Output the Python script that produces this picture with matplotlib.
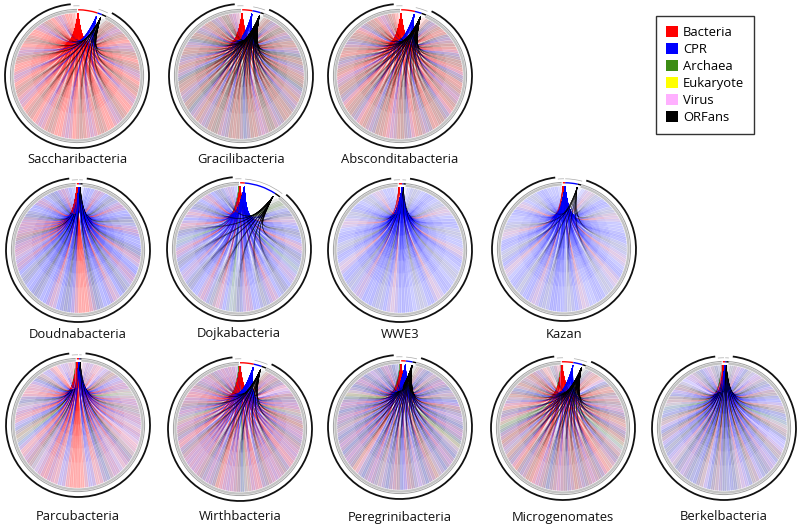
import matplotlib
matplotlib.use('Agg')
import matplotlib.pyplot as plt
from matplotlib.patches import Arc, PathPatch, Patch
from matplotlib.path import Path
import numpy as np

plt.rcParams['font.family'] = ['Open Sans', 'DejaVu Sans']

#[DATA] phylum names, legend and what each link points at
names = ['Saccharibacteria', 'Gracilibacteria', 'Absconditabacteria',
         'Doudnabacteria', 'Dojkabacteria', 'WWE3', 'Kazan',
         'Parcubacteria', 'Wirthbacteria', 'Peregrinibacteria', 'Microgenomates', 'Berkelbacteria']

legend_names = ['Bacteria', 'CPR', 'Archaea', 'Eukaryote', 'Virus', 'ORFans']

# one letter per bundle of links, clockwise round the circle. capital = strong, small = weak
# B bacteria, C CPR, A archaea, E eukaryote, V virus, O orfan
links = [
    'OBOBCBOBBBCBOBBBOBCBBBOBBCBBBBOBCBBBBOBBCBBOBBBCBBBBOBBCBBBOBBBCBBOBBBCBBBBOBCBBBOBBBBCBOBBBCBBBB',
    'OBOCBOOBCOBOBCOOBOCBOBOOCBOBCOBOBOCBOOBCBOBOCOBOBOCBOOBOCBOBCOOBOCBOBOOCBOBCOBOBCOOBOCBOBOCBOOBCB',
    'BOCBOBBOCBOBBCOBOBBCOBBOBCBOBBCOBOBBOCBOBBCOBOBCBBOBOCBOBBCOBOBBCOBOBCBBOBCOBBOBCOBOBBCOBOBBCBOBB',
    'CCcCBCcCOcCBCcCCOcCBCCcCCOCBcCCCBCcOCCcBCCcCOCBBBBBCCOCCcBCCcCOCCcCOcCCBCcBCBCOBCBCBCOCcCCBCcCOCCBCcC',
    'OAocCOcbCcCOcCcBcCOcCAcCbCcCOcCcBCcOcCcCBcCOcAcCcBcOcCBcCcCOcCbCcCOcCBcCAcCOcBcCcBcCOcCcBCcCOcCbCc',
    'ccocccCcccocbcccCccoccccbcCcccocccCccbcCccocccCcCcbcCcoCcCcCbCcoCcCcbccCcoccCcccbccocCcccoccbccccc',
    'ccbcoccCccocbcccccCccoccbcccCcbccoccCccccbcCcocCcCCcoCcbCcCcocCcccbcCcoccCccbcoccccCcbcccoccCccccc',
    'bCbcBvCbObCcBCbAcBCbOcBCbcBCvBcbOCBcbCBcOCbBcCbBBBBBcCbBCBBCbcOBCbBcCAbOcCbBCbcOCbBcBcCObcCbBvCbcB',
    'OBCBOCBVCBOCBCBACBOBCBCOBCBCBBCOBCBCBOCBBCBACOBCBCBBOCBCOBCBCBCBOCBBCOBCBACBCOBCBBCBOCBCBOCBCBCBC',
    'ObCOCbOCBCOCbOCCBOCbCOCBCOAbCOCBCOCbOBCOCbCOBCCOBCOCbOCBCOCbBOCBCOCBCOCbOCBCOCBCOAbCOCBCOCbCOCBCOC',
    'OcBoBvCObBOcBOcBCOBoBCOBoAcBOCBoBBCOBCBOCBOBCOBCBOCOBCBBOBCOBBCOBoCBOBCOAoBCObBCoBOCoBOcBOBCoBvOcB',
    'OcbCcOvCbcOcCbOcCcbOcCAcbOcCvCbOcCbCOcCbOcCbcOCcOCbOCcbOCcOCbCOcbCcOcCbOCcbOcCAcbOcCbOcvCbcOcCbcOc',
]

# where each group's arc starts on the rim, degrees clockwise from the top
bacteria_start = [1, 1, 1, -1, 1, -1, -1, -1, 0, 1, -1, -1]
cpr_start      = [18, 10, 13, 1, 5, 2, 1, 1, 12, 5, 9, 1]
orfan_start    = [22, 17, 19, 2, 33, 3, 12, 2, 19, 11, 17, 2]
rim_end        = [26, 20, 23, 4, 38, 5, 15, 3, 23, 14, 20, 4]

colors = {'B': '#ff0000', 'C': '#0000ff', 'A': '#3c8c14', 'E': '#ffff00', 'V': '#ffb0ff', 'O': '#000000'}
legend_colors = [colors[k] for k in 'BCAEVO']

# pixel layout
centers = [(77, 76), (241, 76), (400, 76),
           (78, 250), (239, 249), (400, 250), (564, 249),
           (78, 425), (240, 429), (400, 427), (563, 428), (724, 428)]
label_y = [160, 160, 160, 334, 334, 334, 334, 517, 517, 517, 517, 517]
radius = 72
W, H = 800, 526
RIM = 0.875
# lines stop at these points along the curve, stacking so they fade towards the rim
FADE = [0.3, 0.42, 0.55, 0.65, 0.75, 0.85, 1.0]


def pol(r, deg):
    a = np.radians(deg)
    return np.array([r * np.sin(a), r * np.cos(a)])


def controls(src, tgt):
    # all links run down a spire, then fan out from about half way to the centre
    c1 = pol(0.22, src) + np.array([0.08 * np.sin(np.radians(tgt)), 0.0])
    c2 = pol(0.30, tgt) + np.array([0.0, 0.30])
    return c1, c2


def ribbon(ax, src, tgt, half, col, alpha):
    # narrow at the source, wide where it lands on the ring
    s = pol(RIM, src)
    c1a, c2a = controls(src, tgt - half)
    c1b, c2b = controls(src, tgt + half)
    verts = [s, c1a, c2a, pol(RIM, tgt - half), pol(RIM, tgt + half), c2b, c1b, s, s]
    codes = [Path.MOVETO, Path.CURVE4, Path.CURVE4, Path.CURVE4, Path.LINETO,
             Path.CURVE4, Path.CURVE4, Path.CURVE4, Path.CLOSEPOLY]
    ax.add_patch(PathPatch(Path(verts, codes), fc=col, ec='none', alpha=alpha))


def core(ax, src, tgt, col, alpha, lw, t=1.0):
    # the curve up to t, so that a line can stop before the rim
    c1, c2 = controls(src, tgt)
    p0, p3 = pol(RIM, src), pol(RIM, tgt)
    a = p0 + (c1 - p0) * t
    m = c1 + (c2 - c1) * t
    n = c2 + (p3 - c2) * t
    b = a + (m - a) * t
    d = m + (n - m) * t
    e = b + (d - b) * t
    verts = [p0, a, b, e]
    codes = [Path.MOVETO, Path.CURVE4, Path.CURVE4, Path.CURVE4]
    ax.add_patch(PathPatch(Path(verts, codes), fc='none', ec=col, lw=lw, alpha=alpha))


def rim_arc(ax, r, a0, a1, col, lw):
    # clockwise from the top -> matplotlib angles
    ax.add_patch(Arc((0, 0), 2 * r, 2 * r, theta1=90 - a1, theta2=90 - a0, color=col, lw=lw))


def drawPanel(ax, i):
    first = rim_end[i] + 3
    last = 357 + min(bacteria_start[i], 0)
    seq = links[i]
    targets = np.linspace(first, last, len(seq))
    step = targets[1] - targets[0]

    starts = {'B': bacteria_start[i], 'C': cpr_start[i], 'O': orfan_start[i],
              'A': bacteria_start[i] - 1, 'E': bacteria_start[i] - 1, 'V': bacteria_start[i] - 1}

    for ch, tgt in zip(seq, targets):
        key = ch.upper()
        ribbon(ax, starts[key], tgt, step * 1.4, colors[key], 0.10 if ch.isupper() else 0.06)
    for ch, tgt in zip(seq, targets):
        key = ch.upper()
        strong = ch.isupper()
        for off in (-0.25, 0.25):
            for t in FADE:
                core(ax, starts[key], tgt + off * step, colors[key], 0.17 if strong else 0.10, 0.32, t=t)

    # grey rings, open where the group arcs sit
    rim_arc(ax, 0.925, rim_end[i], 360 + bacteria_start[i] - 1, '#a0a0a0', 0.7)
    rim_arc(ax, 0.897, rim_end[i], 360 + bacteria_start[i] - 1, '#c4c4c4', 1.7)
    # outer black ring with the gap at the top
    rim_arc(ax, 1.0, rim_end[i] + 3, 360 + bacteria_start[i] - 6, '#111111', 1.3)
    rim_arc(ax, 0.975, bacteria_start[i] - 4, bacteria_start[i] + 1, '#aaaaaa', 0.5)
    rim_arc(ax, 0.975, cpr_start[i], rim_end[i], '#aaaaaa', 0.5)

    # the group arcs
    rim_arc(ax, 0.92, bacteria_start[i], cpr_start[i], colors['B'], 1.0)
    rim_arc(ax, 0.92, cpr_start[i], orfan_start[i], colors['C'], 1.0)
    rim_arc(ax, 0.92, orfan_start[i], rim_end[i], colors['O'], 1.0)


def main():
    fig = plt.figure(figsize=(W / 100, H / 100), dpi=100)
    pad = 1.05
    size = 2 * radius * pad

    for i, name in enumerate(names):
        cx, cy = centers[i]
        ax = fig.add_axes([(cx - size / 2) / W, 1 - (cy + size / 2) / H, size / W, size / H])
        ax.set_xlim(-pad, pad)
        ax.set_ylim(-pad, pad)
        ax.axis('off')
        drawPanel(ax, i)
        fig.text(cx / W, 1 - label_y[i] / H, name, ha='center', va='center', fontsize=9.4, color='#111111')

    handles = [Patch(fc=c, ec='none') for c in legend_colors]
    leg = fig.legend(handles, legend_names, loc='upper left', bbox_to_anchor=(656 / W, 1 - 16 / H),
                     borderaxespad=0, fontsize=9.4, fancybox=False, framealpha=1, edgecolor='#333333',
                     handlelength=0.92, handleheight=0.92, handletextpad=0.4, labelspacing=0.31,
                     borderpad=0.75)
    leg.get_frame().set_linewidth(1)

    fig.savefig('out.png', dpi=100)


if __name__ == "__main__":
    main()
